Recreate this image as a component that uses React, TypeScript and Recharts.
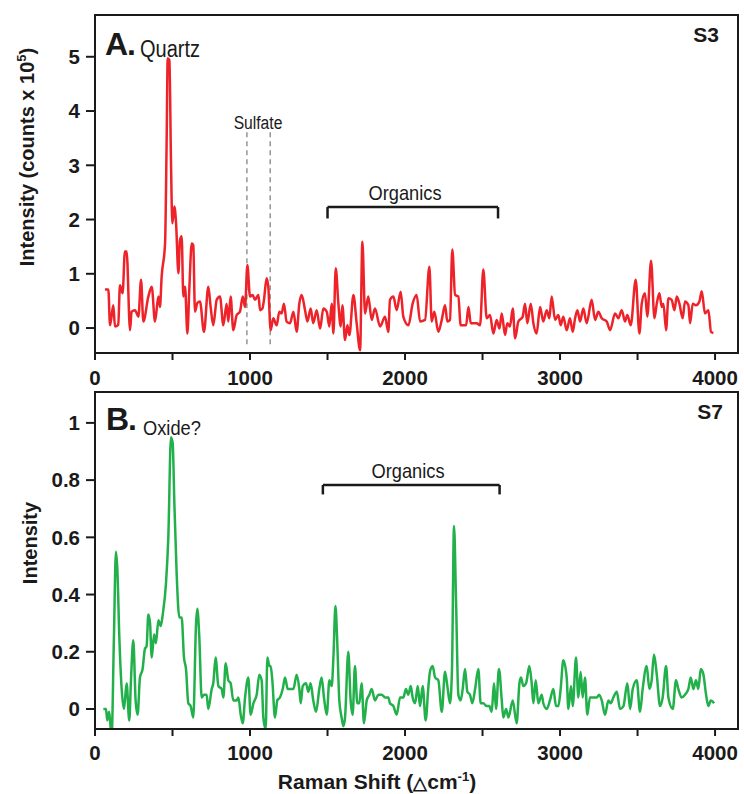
import React from 'react';
import { LineChart, Line, XAxis, YAxis, ReferenceLine } from 'recharts';

// Panel A (S3) – Raman shift and intensity (counts x 10^5)
const shiftA = [
  64, 86, 97, 118, 129, 150, 161, 178, 193, 204,
  226, 236, 258, 280, 297, 312, 344, 366, 387, 409,
  419, 430, 452, 462, 469, 480, 490, 499, 512, 523,
  538, 548, 559, 570, 581, 596, 609, 624, 634, 645,
  660, 677, 703, 731, 746, 763, 785, 806, 828, 849,
  860, 875, 892, 914, 935, 953, 968, 983, 1000, 1017,
  1032, 1054, 1065, 1080, 1090, 1107, 1118, 1133, 1150, 1172,
  1189, 1204, 1219, 1236, 1258, 1280, 1301, 1318, 1333, 1355,
  1370, 1391, 1408, 1430, 1452, 1473, 1495, 1512, 1527, 1538,
  1553, 1570, 1585, 1596, 1613, 1628, 1641, 1667, 1688, 1710,
  1725, 1742, 1763, 1785, 1806, 1839, 1871, 1892,
  1903, 1925, 1946, 1972, 1989, 2022, 2049, 2075, 2097, 2129,
  2157, 2172, 2189, 2215, 2237, 2258, 2273, 2290, 2305, 2323,
  2344, 2359, 2394, 2409, 2424, 2462, 2484, 2505, 2527, 2548,
  2570, 2591, 2609, 2624, 2645, 2660, 2677, 2695, 2710, 2731,
  2759, 2774, 2789, 2811, 2828, 2849, 2871, 2892, 2914, 2931,
  2946, 2968, 2989, 3004, 3021, 3043, 3064, 3082, 3097, 3112,
  3129, 3150, 3172, 3204, 3226, 3247, 3269, 3301, 3323, 3355,
  3376, 3398, 3419, 3434, 3456, 3488, 3512, 3527, 3548, 3563,
  3587, 3609, 3624, 3641, 3656, 3667, 3684, 3699, 3720, 3738,
  3753, 3770, 3791, 3806, 3828, 3839, 3856, 3877, 3899, 3914,
  3935, 3957, 3974, 3989,
];
const intensityA = [
  0.71, 0.71, 0.05, 0.42, 0.03, 0.06, 0.79, 0.64, 1.41, 1.41,
  -0.04, 0.3, 0.33, 0.21, 0.89, 0.12, 0.58, 0.76, 0.12, 0.58,
  0.39, 0.95, 1.56, 3.41, 4.97, 4.94, 3.1, 1.93, 2.24, 1.93,
  1.01, 1.62, 1.69, 0.58, 0.76, -0.1, 0.76, 1.56, 1.53, 0.3,
  0.46, 0.49, -0.07, 0.76, 0.39, 0.05, 0.52, 0.58, 0.05, 0.45,
  0.12, 0.58, -0.04, 0.24, 0.3, 0.58, 0.39, 1.16, 0.58, 0.61,
  0.52, 0.61, 0.33, 0.36, 0.52, 0.92, 0.76, -0.04, 0.18, 0.05,
  0.3, 0.27, 0.45, 0.12, 0.09, 0.3, -0.07, 0.45, 0.61, 0.33,
  0.12, 0.36, 0.09, 0.33, -0.01, 0.36, 0.3, 0.03, 0.45, -0.1,
  1.1, 0.45, 0.03, 0.42, -0.22, 0.05, -0.13, 0.61, 0.09, -0.41,
  1.59, 0.27, 0.58, 0.15, 0.36, 0.03, 0.21, -0.07,
  0.52, 0.58, 0.33, 0.67, 0.21, 0.05, 0.45, 0.61, 0.12, 0.15,
  1.13, 0.12, 0.3, -0.07, 0.15, 0.42, 0.12, 0.15, 1.45, 0.61,
  0.58, 0.05, 0.05, 0.39, 0.09, 0.09, 0.05, 1.08, 0.18, 0.24,
  -0.1, 0.15, -0.01, 0.27, -0.13, 0.09, 0.03, 0.36, -0.19, 0.12,
  0.21, 0.45, 0.09, 0.45, 0.09, -0.1, 0.39, 0.12, 0.33, 0.18,
  0.58, 0.15, 0.24, 0.05, 0.21, -0.04, 0.18, -0.07, 0.18, 0.33,
  0.12, 0.36, 0.09, 0.52, 0.15, 0.3, 0.18, 0.12, -0.04, 0.27,
  0.18, 0.33, 0.12, 0.24, 0.05, 0.89, -0.1, 0.45, 0.64, 0.21,
  1.24, 0.18, 0.45, 0.64, 0.39, 0.45, -0.04, 0.55, 0.52, 0.33,
  0.58, 0.45, 0.18, 0.49, 0.42, 0.09, 0.45, 0.42, 0.49, 0.68,
  0.27, 0.33, -0.07, -0.09,
];

// Panel B (S7) – relative intensity
const shiftB = [
  54, 71, 79, 92, 107, 122, 135, 144, 157, 172,
  187, 204, 221, 232, 247, 262, 275, 290, 307, 322,
  333, 344, 355, 366, 381, 393, 409, 424, 437, 458,
  473, 490, 501, 512, 527, 544, 559, 574, 587, 602,
  617, 634, 652, 660, 673, 688, 703, 720, 731, 753,
  763, 778, 796, 817, 828, 843, 860, 875, 892, 914,
  925, 940, 953, 968, 989, 1004, 1022, 1043, 1060, 1075,
  1086, 1101, 1112, 1125, 1133, 1144, 1161, 1176, 1193, 1211,
  1226, 1243, 1258, 1280, 1301, 1318, 1327, 1340, 1361, 1376,
  1391, 1408, 1426, 1447, 1462, 1477, 1495, 1512, 1527, 1538,
  1551, 1563, 1576, 1591, 1602, 1613, 1634, 1649, 1662, 1677,
  1692, 1705, 1720, 1735, 1753, 1770, 1785, 1806, 1828, 1850,
  1871, 1892,
  1903, 1925, 1946, 1968, 1989, 2006, 2021, 2037, 2049, 2065,
  2082, 2097, 2114, 2133, 2151, 2161, 2178, 2194, 2215, 2237,
  2258, 2273, 2290, 2303, 2316, 2329, 2344, 2359, 2372, 2387,
  2402, 2419, 2434, 2452, 2473, 2488, 2505, 2527, 2544, 2559,
  2574, 2587, 2606, 2624, 2634, 2652, 2667, 2695, 2720, 2738,
  2748, 2763, 2781, 2802, 2817, 2828, 2843, 2860, 2882, 2892,
  2914, 2935, 2957, 2974, 2989, 3004, 3021, 3043, 3054, 3071,
  3082, 3103, 3118, 3133, 3146, 3161, 3176, 3193, 3215, 3237,
  3252, 3269, 3290, 3312, 3327, 3344, 3366, 3387, 3409, 3434,
  3452, 3469, 3495, 3516, 3533, 3559, 3576, 3591, 3606, 3624,
  3645, 3662, 3684, 3699, 3727, 3748, 3763, 3785, 3806, 3828,
  3843, 3860, 3877, 3892, 3908, 3925, 3942, 3957, 3972, 3994,
];
const intensityB = [
  0.0, 0.0, -0.04, -0.01, -0.1, 0.25, 0.55, 0.49, 0.25, 0.07,
  0.0, 0.09, -0.04, 0.1, 0.24, 0.03, -0.02, 0.11, 0.14, 0.21,
  0.22, 0.33, 0.3, 0.18, 0.26, 0.23, 0.31, 0.29, 0.33, 0.44,
  0.6, 0.95, 0.93, 0.72, 0.47, 0.32, 0.32, 0.18, 0.14, 0.02,
  0.01, -0.03, 0.3, 0.35, 0.25, 0.04, 0.05, 0.05, 0.0, 0.07,
  0.09, 0.18, 0.08, 0.07, 0.04, 0.16, 0.1, 0.09, 0.03, 0.03,
  0.04, -0.02, -0.05, 0.04, 0.11, -0.02, 0.02, 0.05, 0.12, 0.1,
  -0.03, -0.07, 0.18, 0.15, 0.15, 0.1, -0.03, 0.03, 0.04, 0.07,
  0.11, 0.07, 0.07, 0.07, 0.12, 0.07, 0.02, 0.08, 0.09, 0.06,
  0.09, 0.03, -0.01, 0.07, 0.11, 0.04, -0.02, 0.1, 0.08, 0.18,
  0.36, 0.23, 0.03, -0.03, -0.06, -0.03, 0.2, 0.03, -0.02, 0.15,
  0.02, 0.02, 0.09, -0.05, 0.03, 0.05, 0.07, 0.03, 0.05, 0.05,
  0.04, 0.04,
  0.02, 0.01, -0.02, 0.04, 0.04, 0.07, 0.05, 0.08, 0.04, 0.02,
  0.08, 0.01, 0.08, -0.04, 0.08, 0.13, 0.15, 0.11, 0.1, -0.01,
  0.13, 0.08, 0.02, 0.14, 0.64, 0.38, 0.05, 0.03, 0.07, 0.14,
  0.06, 0.05, 0.02, 0.07, 0.14, 0.02, 0.02, 0.01, 0.01, -0.01,
  0.09, 0.0, 0.14, 0.03, -0.03, 0.0, -0.03, 0.03, -0.05, 0.09,
  0.11, 0.08, 0.09, 0.15, 0.09, 0.02, 0.1, 0.02, 0.05, 0.02,
  0.0, 0.03, 0.07, 0.01, 0.01, 0.07, 0.17, 0.11, 0.0, 0.08,
  0.01, 0.18, 0.04, 0.13, 0.04, 0.11, -0.02, 0.04, 0.04, 0.04,
  0.05, 0.03, -0.02, 0.03, 0.02, 0.04, 0.06, 0.0, 0.01, 0.09,
  0.0, 0.07, 0.1, -0.01, 0.07, 0.15, 0.07, 0.1, 0.19, 0.12,
  0.01, 0.04, 0.15, 0.04, 0.0, 0.1, 0.07, 0.04, 0.05, 0.07,
  0.11, 0.07, 0.1, 0.07, 0.14, 0.12, 0.05, 0.01, 0.03, 0.02,
];

const xTicks = [0, 500, 1000, 1500, 2000, 2500, 3000, 3500, 4000];
const yTicksA = [0, 1, 2, 3, 4, 5];
const yTicksB = [0, 0.2, 0.4, 0.6, 0.8, 1];

// annotation positions in data units
const sulfateLines = [980, 1130];
const organicsA = [1500, 2600];
const organicsB = [1470, 2610];

const dataA = shiftA.map((x, i) => ({ x, y: intensityA[i] }));
const dataB = shiftB.map((x, i) => ({ x, y: intensityB[i] }));

const INK = '#1a1a1a';
const SANS = "'Liberation Sans', Arial, sans-serif";

const tickStyle = { fontFamily: SANS, fontWeight: 700, fontSize: 20.5, fill: INK };
const xFmt = (v: number) => (v % 1000 === 0 ? String(v) : '');

const W = 744;
const H = 794;

// condensed look: regular sans squeezed horizontally
const Narrow = ({ x, y, size, anchor = 'start', children }: any) => (
  <text
    transform={`translate(${x},${y}) scale(0.87,1)`}
    textAnchor={anchor}
    fontFamily={SANS}
    fontSize={size}
    fill={INK}
  >
    {children}
  </text>
);

const App = () => {
  return (
    <div style={{ position: 'absolute', left: 0, top: 0, width: W, height: H, background: '#fff' }}>
      {/* panel A */}
      <div style={{ position: 'absolute', left: 0, top: 0 }}>
        <LineChart width={W} height={H} data={dataA} margin={{ top: 15, right: 6, bottom: 411, left: 35 }}>
          <XAxis
            type="number"
            dataKey="x"
            domain={[0, 4148]}
            ticks={xTicks}
            tickFormatter={xFmt}
            height={30}
            tickSize={7}
            tickMargin={10}
            stroke={INK}
            strokeWidth={2}
            tick={tickStyle}
            allowDataOverflow
          />
          <YAxis
            type="number"
            domain={[-0.46, 5.77]}
            ticks={yTicksA}
            width={60}
            tickSize={9}
            tickMargin={6}
            stroke={INK}
            strokeWidth={2}
            tick={tickStyle}
            allowDataOverflow
          />
          {sulfateLines.map((v) => (
            <ReferenceLine
              key={v}
              segment={[{ x: v, y: -0.3 }, { x: v, y: 3.62 }]}
              stroke="#7a7a7a"
              strokeWidth={1.2}
              strokeDasharray="5 4"
            />
          ))}
          <ReferenceLine segment={[{ x: organicsA[0], y: 2.23 }, { x: organicsA[1], y: 2.23 }]} stroke={INK} strokeWidth={2.5} />
          <ReferenceLine segment={[{ x: organicsA[0], y: 2.23 }, { x: organicsA[0], y: 2.02 }]} stroke={INK} strokeWidth={2.5} />
          <ReferenceLine segment={[{ x: organicsA[1], y: 2.23 }, { x: organicsA[1], y: 2.02 }]} stroke={INK} strokeWidth={2.5} />
          <Line
            type="monotone"
            dataKey="y"
            stroke="#ee2229"
            strokeWidth={2.5}
            dot={false}
            isAnimationActive={false}
          />
        </LineChart>
      </div>

      {/* panel B */}
      <div style={{ position: 'absolute', left: 0, top: 0 }}>
        <LineChart width={W} height={H} data={dataB} margin={{ top: 392, right: 6, bottom: 35, left: 35 }}>
          <XAxis
            type="number"
            dataKey="x"
            domain={[0, 4148]}
            ticks={xTicks}
            tickFormatter={xFmt}
            height={30}
            tickSize={7}
            tickMargin={9}
            stroke={INK}
            strokeWidth={2}
            tick={tickStyle}
            allowDataOverflow
          />
          <YAxis
            type="number"
            domain={[-0.07, 1.108]}
            ticks={yTicksB}
            width={60}
            tickSize={9}
            tickMargin={6}
            stroke={INK}
            strokeWidth={2}
            tick={tickStyle}
            allowDataOverflow
          />
          <ReferenceLine segment={[{ x: organicsB[0], y: 0.783 }, { x: organicsB[1], y: 0.783 }]} stroke={INK} strokeWidth={2.5} />
          <ReferenceLine segment={[{ x: organicsB[0], y: 0.783 }, { x: organicsB[0], y: 0.75 }]} stroke={INK} strokeWidth={2.5} />
          <ReferenceLine segment={[{ x: organicsB[1], y: 0.783 }, { x: organicsB[1], y: 0.75 }]} stroke={INK} strokeWidth={2.5} />
          <Line
            type="monotone"
            dataKey="y"
            stroke="#22b04b"
            strokeWidth={2.5}
            dot={false}
            isAnimationActive={false}
          />
        </LineChart>
      </div>

      {/* frames and text */}
      <svg width={W} height={H} style={{ position: 'absolute', left: 0, top: 0, pointerEvents: 'none' }}>
        <rect x={95} y={15} width={643} height={338} fill="none" stroke={INK} strokeWidth={2} />
        <rect x={95} y={392} width={643} height={337} fill="none" stroke={INK} strokeWidth={2} />

        <text x={105} y={55} fontFamily={SANS} fontWeight={700} fontSize={32} fill={INK} letterSpacing={-1}>A.</text>
        <Narrow x={140} y={57} size={23}>Quartz</Narrow>
        <text x={719} y={42} textAnchor="end" fontFamily={SANS} fontWeight={700} fontSize={21} fill={INK}>S3</text>
        <Narrow x={258} y={129} size={18} anchor="middle">Sulfate</Narrow>
        <Narrow x={405} y={200} size={21} anchor="middle">Organics</Narrow>

        <text x={106} y={430} fontFamily={SANS} fontWeight={700} fontSize={32} fill={INK} letterSpacing={-1}>B.</text>
        <Narrow x={143} y={435} size={21}>Oxide?</Narrow>
        <text x={723} y={419} textAnchor="end" fontFamily={SANS} fontWeight={700} fontSize={21} fill={INK}>S7</text>
        <Narrow x={408} y={478} size={21} anchor="middle">Organics</Narrow>

        <text
          transform="translate(34,157) rotate(-90)"
          textAnchor="middle"
          fontFamily={SANS}
          fontWeight={700}
          fontSize={20}
          fill={INK}
        >
          Intensity (counts x 10<tspan fontSize={13} dy={-8}>5</tspan><tspan dy={8}>)</tspan>
        </text>
        <text
          transform="translate(37,543) rotate(-90)"
          textAnchor="middle"
          fontFamily={SANS}
          fontWeight={700}
          fontSize={20}
          fill={INK}
        >
          Intensity
        </text>
        <text x={377} y={789} textAnchor="middle" fontFamily={SANS} fontWeight={700} fontSize={21} fill={INK}>
          Raman Shift (<tspan fontSize={18}>△</tspan>cm<tspan fontSize={13} dy={-8}>-1</tspan><tspan dy={8}>)</tspan>
        </text>
      </svg>
    </div>
  );
};

export default App;
